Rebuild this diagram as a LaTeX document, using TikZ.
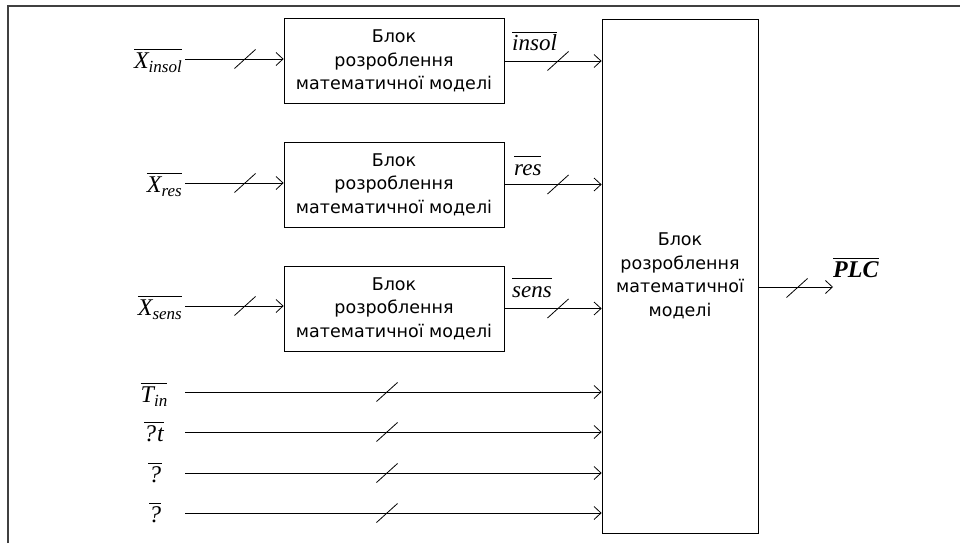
\documentclass[tikz,border=0pt]{standalone}
\usepackage{fontspec}
\setmainfont{DejaVu Sans}
\newfontfamily\tms{Liberation Serif}
\usetikzlibrary{arrows.meta}
\newcommand\olbl[1]{$\overline{\hbox{\rule{0pt}{0.74em}#1}}$}
\newcommand\lblfont{\tms\itshape\fontsize{24}{24}\selectfont}
\newcommand\subf[1]{\raisebox{-4.5pt}{\fontsize{17}{17}\selectfont #1}}
\begin{document}
\begin{tikzpicture}[x=1pt,y=-1pt,
  blk/.style={draw, line width=0.8pt, align=center, inner sep=0pt,
    font=\fontsize{17.5}{23.5}\selectfont},
  smallblk/.style={blk, minimum width=220pt, minimum height=85pt},
  arr/.style={line width=0.8pt, -{Straight Barb[length=7pt,width=13pt]}},
  slashmark/.pic={\draw[line width=0.8pt] (-10.5,9.5) -- (10.5,-9.5);},
  lbl/.style={inner sep=0pt, font=\lblfont},
  frame/.style={line width=1.4pt, draw=black!75}
]
\useasboundingbox (0,0) rectangle (960,543);
\draw[frame] (8,543) -- (8,6) -- (960,6);

% blocks
\node[smallblk] (b1) at (394,61) {Блок\\розроблення\\математичної моделі};
\node[smallblk] (b2) at (394,184.5) {Блок\\розроблення\\математичної моделі};
\node[smallblk] (b3) at (394,308.5) {Блок\\розроблення\\математичної моделі};
\node[blk, minimum width=156pt, minimum height=514pt] (big) at (680,276)
  {Блок\\розроблення\\математичної\\моделі};

% input labels
\node[lbl, anchor=base east] (lx1) at (182,68) {\olbl{X\subf{insol}}};
\node[lbl, anchor=base east] (lx2) at (182,192) {\olbl{X\subf{res}}};
\node[lbl, anchor=base east] (lx3) at (182,315) {\olbl{X\subf{sens}}};
\node[lbl, anchor=base] (lt1) at (154,402) {\olbl{T\subf{in}}};
\node[lbl, anchor=base] (lt2) at (154,441) {\olbl{?\kern1pt t}};
\node[lbl, anchor=base] (lt3) at (155,482) {\olbl{\kern1pt?\kern1pt}};
\node[lbl, anchor=base] (lt4) at (155,522) {\olbl{?}};

% start coordinates
\coordinate (s1) at (185,59);
\coordinate (s2) at (185,183);
\coordinate (s3) at (185,306);
\coordinate (t1) at (185,392);
\coordinate (t2) at (185,432);
\coordinate (t3) at (185,473);
\coordinate (t4) at (185,513);

\draw[arr] (s1) -- (s1 -| b1.west);
\draw[arr] (s2) -- (s2 -| b2.west);
\draw[arr] (s3) -- (s3 -| b3.west);
\pic at (245,59) {slashmark};
\pic at (245,183) {slashmark};
\pic at (245,306) {slashmark};

\draw[arr] (t1) -- (t1 -| big.west);
\draw[arr] (t2) -- (t2 -| big.west);
\draw[arr] (t3) -- (t3 -| big.west);
\draw[arr] (t4) -- (t4 -| big.west);
\pic at (387,392) {slashmark};
\pic at (387,432) {slashmark};
\pic at (387,473) {slashmark};
\pic at (387,513) {slashmark};

% block outputs
\draw[arr] (b1.east) -- (b1.east -| big.west);
\draw[arr] (b2.east) -- (b2.east -| big.west);
\draw[arr] (b3.east) -- (b3.east -| big.west);
\pic at (558,61) {slashmark};
\pic at (558,184.5) {slashmark};
\pic at (558,308.5) {slashmark};

\node[lbl, anchor=base west, font=\tms\itshape\fontsize{23}{23}\selectfont] (li) at (512,51) {\olbl{insol}};
\node[lbl, anchor=base west, font=\tms\itshape\fontsize{23}{23}\selectfont] (lr) at (514,175) {\olbl{res}};
\node[lbl, anchor=base west, font=\tms\itshape\fontsize{23}{23}\selectfont] (ls) at (512,297) {\olbl{sens}};

% output
\coordinate (o1) at (758,287);
\coordinate (o2) at (833,287);
\draw[arr] (o1) -- (o2);
\pic at (797,288) {slashmark};
\node[lbl, anchor=base west, font=\tms\bfseries\itshape\fontsize{24}{24}\selectfont] (lp) at (833,277) {\olbl{PLC}};
\end{tikzpicture}
\end{document}
